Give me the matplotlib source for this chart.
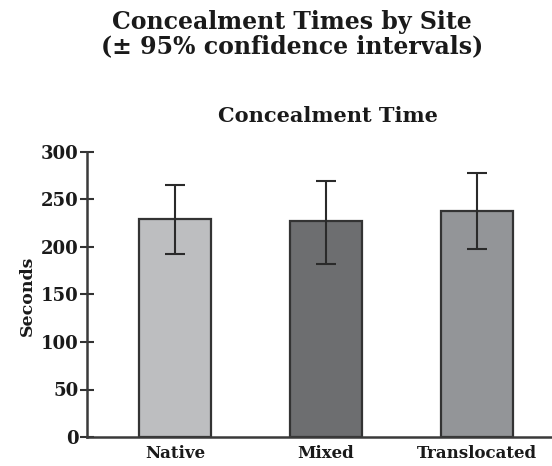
import matplotlib
matplotlib.use("Agg")
import matplotlib.pyplot as plt
import numpy as np

sites = ["Native", "Mixed", "Translocated"]
means = [229, 227, 237.5]
ci_low = [193, 182, 197.5]
ci_high = [265, 269, 277.5]
colors = ["#bdbec0", "#6d6e70", "#939598"]
yticks = [0, 50, 100, 150, 200, 250, 300]

plt.rcParams['font.family'] = ['DejaVu Serif']
plt.rcParams['font.weight'] = 'bold'

fig = plt.figure(figsize=(5.52, 4.66), dpi=100)
ax = fig.add_axes([87/552, 1 - 437/466, 1 - 87/552, (437 - 152)/466])

x = np.arange(len(sites))
yerr = [np.array(means) - np.array(ci_low), np.array(ci_high) - np.array(means)]
ax.bar(x, means, width=0.48, color=colors, edgecolor="#333333", linewidth=1.6, zorder=2)
ax.errorbar(x, means, yerr=yerr, fmt='none', ecolor="#2a2a2a", elinewidth=1.5,
            capsize=7, capthick=1.5, zorder=3)

ax.set_xlim(-0.583, 2.497)
ax.set_ylim(0, 300)
ax.set_yticks(yticks)
ax.set_yticklabels([str(v) for v in yticks], fontsize=13, fontweight='bold', color="#1a1a1a")
ax.set_xticks(x)
ax.set_xticklabels(sites, fontsize=12, fontweight='bold', color="#1a1a1a")
ax.tick_params(axis='x', length=0, pad=6)
ax.tick_params(axis='y', direction='inout', length=10, width=1.5, color="#333333", pad=1)

for s in ["top", "right"]:
    ax.spines[s].set_visible(False)
for s in ["left", "bottom"]:
    ax.spines[s].set_linewidth(1.8)
    ax.spines[s].set_color("#3a3a3a")

fig.text(27/552, 1 - 296/466, "Seconds", rotation=90, ha='center', va='center',
         fontsize=12.5, fontweight='bold', color="#1a1a1a")

fig.text(292/552, 1 - 22/466, "Concealment Times by Site", ha='center', va='center',
         fontsize=17, fontweight='bold', color="#1a1a1a")
fig.text(292/552, 1 - 46/466, "(± 95% confidence intervals)", ha='center', va='center',
         fontsize=17, fontweight='bold', color="#1a1a1a")
fig.text(328/552, 1 - 116/466, "Concealment Time", ha='center', va='center',
         fontsize=15, fontweight='bold', color="#1a1a1a")

fig.savefig("out.png", dpi=100)
